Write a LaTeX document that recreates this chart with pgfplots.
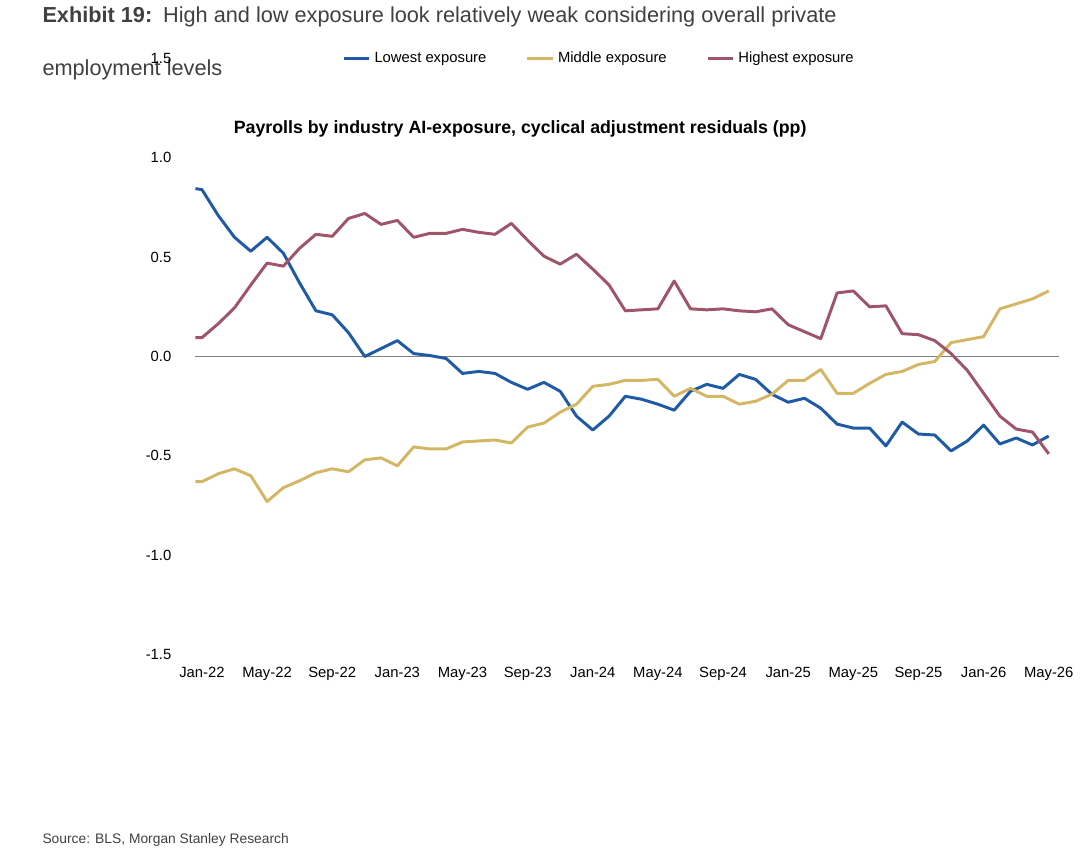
\documentclass[border=0pt]{standalone}
\usepackage{pgfplots}
\pgfplotsset{compat=1.18}
\usepackage{fontspec}
\setmainfont{Liberation Sans}
\definecolor{cblue}{HTML}{1F5AA6}
\definecolor{cyel}{HTML}{D4B764}
\definecolor{cred}{HTML}{A0546A}
\definecolor{txt}{HTML}{404040}
\begin{document}
\begin{tikzpicture}[x=0.5pt,y=0.5pt]
\path (0,0) rectangle (1080,870);
\node[anchor=base west,font=\fontsize{11}{13}\selectfont,text=txt] at (36,848) {\textbf{Exhibit 19:}\enspace High and low exposure look relatively weak considering overall private};
\node[anchor=base west,font=\fontsize{11}{13}\selectfont,text=txt] at (36,794) {employment levels};
\node[anchor=base,font=\fontsize{9}{11}\selectfont\bfseries] at (527,735) {Payrolls by industry AI-exposure, cyclical adjustment residuals (pp)};
\node[anchor=base west,font=\fontsize{7}{9}\selectfont,text=txt] at (36,16) {Source: BLS, Morgan Stanley Research};
\begin{axis}[at={(124,103)},anchor=south west,scale only axis,
 width=429pt,height=302pt,
 xmin=0,xmax=52,ymin=-1.5,ymax=1.5,
 axis line style={draw=none},tick style={draw=none},
 xtick={0,4,...,52},
 xticklabels={Jan-22,May-22,Sep-22,Jan-23,May-23,Sep-23,Jan-24,May-24,Sep-24,Jan-25,May-25,Sep-25,Jan-26,May-26},
 ytick={-1.5,-1,...,1.5},
 /pgf/number format/fixed,
 /pgf/number format/fixed zerofill,
 /pgf/number format/precision=1,
 /pgf/number format/assume math mode=true,
 yticklabel style={xshift=-12pt},
 xticklabel style={yshift=-3pt},
 tick label style={font=\fontsize{7.5}{9}\selectfont},
 clip=false,
 legend style={at={(0.47,1)},anchor=center,draw=none,fill=none,
   font=\fontsize{7.5}{9}\selectfont,legend columns=3,
   /tikz/every even column/.append style={column sep=18pt}},
 legend image code/.code={\draw[#1,line width=1.5pt] (0,0) -- (0.45cm,0);},
 every axis plot/.append style={line width=1.5pt,line join=round}]
\draw[gray,line width=0.8pt] (axis cs:-0.4,0) -- (axis cs:52.6,0);
\addplot[cblue] coordinates {(-0.4,0.845)(0,0.84)(1,0.71)(2,0.60)(3,0.53)(4,0.60)(5,0.52)(6,0.37)(7,0.23)(8,0.21)(9,0.12)(10,0.0)(11,0.04)(12,0.08)(13,0.015)(14,0.005)(15,-0.01)(16,-0.085)(17,-0.075)(18,-0.085)(19,-0.13)(20,-0.165)(21,-0.13)(22,-0.175)(23,-0.30)(24,-0.37)(25,-0.30)(26,-0.20)(27,-0.215)(28,-0.24)(29,-0.27)(30,-0.175)(31,-0.14)(32,-0.16)(33,-0.09)(34,-0.115)(35,-0.19)(36,-0.23)(37,-0.21)(38,-0.26)(39,-0.34)(40,-0.36)(41,-0.36)(42,-0.45)(43,-0.33)(44,-0.39)(45,-0.395)(46,-0.475)(47,-0.425)(48,-0.345)(49,-0.44)(50,-0.41)(51,-0.445)(52,-0.40)};
\addlegendentry{Lowest exposure}
\addplot[cyel] coordinates {(-0.4,-0.63)(0,-0.63)(1,-0.59)(2,-0.565)(3,-0.60)(4,-0.73)(5,-0.66)(6,-0.625)(7,-0.585)(8,-0.565)(9,-0.58)(10,-0.52)(11,-0.51)(12,-0.55)(13,-0.455)(14,-0.465)(15,-0.465)(16,-0.43)(17,-0.425)(18,-0.42)(19,-0.435)(20,-0.355)(21,-0.335)(22,-0.28)(23,-0.24)(24,-0.15)(25,-0.14)(26,-0.12)(27,-0.12)(28,-0.115)(29,-0.20)(30,-0.16)(31,-0.20)(32,-0.20)(33,-0.24)(34,-0.225)(35,-0.19)(36,-0.12)(37,-0.12)(38,-0.065)(39,-0.185)(40,-0.185)(41,-0.135)(42,-0.09)(43,-0.075)(44,-0.04)(45,-0.025)(46,0.07)(47,0.085)(48,0.10)(49,0.24)(50,0.265)(51,0.29)(52,0.33)};
\addlegendentry{Middle exposure}
\addplot[cred] coordinates {(-0.4,0.095)(0,0.095)(1,0.165)(2,0.245)(3,0.36)(4,0.47)(5,0.455)(6,0.545)(7,0.615)(8,0.605)(9,0.695)(10,0.72)(11,0.665)(12,0.685)(13,0.60)(14,0.62)(15,0.62)(16,0.64)(17,0.625)(18,0.615)(19,0.67)(20,0.585)(21,0.505)(22,0.465)(23,0.515)(24,0.44)(25,0.36)(26,0.23)(27,0.235)(28,0.24)(29,0.38)(30,0.24)(31,0.235)(32,0.24)(33,0.23)(34,0.225)(35,0.24)(36,0.16)(37,0.125)(38,0.09)(39,0.32)(40,0.33)(41,0.25)(42,0.255)(43,0.115)(44,0.11)(45,0.08)(46,0.015)(47,-0.07)(48,-0.185)(49,-0.30)(50,-0.365)(51,-0.38)(52,-0.49)};
\addlegendentry{Highest exposure}
\end{axis}
\end{tikzpicture}
\end{document}
